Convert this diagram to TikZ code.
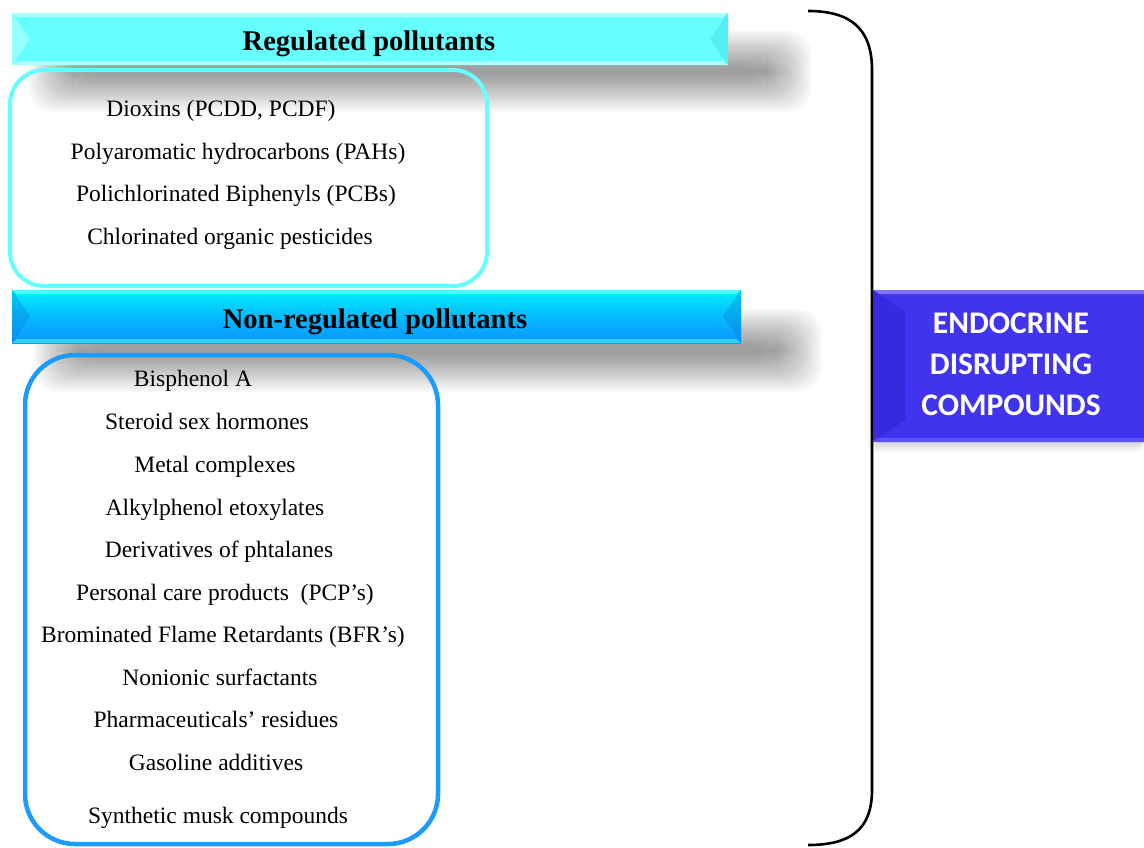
\documentclass[tikz,border=0pt]{standalone}
\usepackage{fontspec}
\setmainfont{Liberation Serif}
\newfontfamily\edcfont{Carlito}
\begin{document}
\begin{tikzpicture}[x=1pt,y=-1pt,
  item/.style={font=\fontsize{23.5}{23.5}\selectfont, inner sep=0pt, anchor=center, text height=16pt, text depth=5pt},
  head/.style={font=\fontsize{28.5}{28.5}\selectfont\bfseries, inner sep=0pt, anchor=center},
  brace/.style={line width=2.6pt, black},
]
\definecolor{regcyan}{RGB}{102,255,255}
\definecolor{reglight}{RGB}{170,255,255}
\definecolor{regdark}{RGB}{85,238,242}
\definecolor{nrtop}{RGB}{0,240,255}
\definecolor{nrbot}{RGB}{10,150,255}
\definecolor{nrborder}{RGB}{25,155,255}
\definecolor{edcblue}{RGB}{64,52,238}
\definecolor{edclight}{RGB}{125,115,255}
\definecolor{edcdark}{RGB}{54,42,222}
\useasboundingbox (0,0) rectangle (1144,847);
\fill[white] (0,0) rectangle (1144,847);
% soft shadows
\foreach \i in {0,...,17} {
  \fill[black,opacity=0.022,rounded corners=25] ({28+\i*2.6},{30+\i*2.2}) rectangle ({812-\i*2.6},{112-\i*2.2});
  \fill[black,opacity=0.022,rounded corners=25] ({33+\i*2.6},{308+\i*2.2}) rectangle ({822-\i*2.6},{392-\i*2.2});
}
\foreach \i in {0,...,7} {
  \fill[black,opacity=0.02,rounded corners=8] ({868+\i*1},{300+\i*1}) rectangle ({1144},{452-\i*1.2});
}
% Regulated bar
\fill[regcyan] (12,13) rectangle (728,65);
\fill[reglight] (12,13) -- (728,13) -- (723,17) -- (17,17) -- cycle;
\fill[reglight] (12,65) -- (728,65) -- (723,61) -- (17,61) -- cycle;
\fill[reglight!70!regcyan] (12,13) -- (30,39) -- (12,65) -- cycle;
\fill[regdark] (728,13) -- (710,39) -- (728,65) -- cycle;
\node[head] (reghead) at (369,44) {Regulated pollutants};
% Non-regulated bar
\shade[top color=nrtop, bottom color=nrbot, middle color=nrbot!60!nrtop] (12,290) rectangle (741,343);
\fill[nrtop!60!white,opacity=0.8] (12,290) -- (741,290) -- (736,294) -- (17,294) -- cycle;
\fill[nrtop!70!white,opacity=0.6] (12,343) -- (741,343) -- (736,339) -- (17,339) -- cycle;
\fill[nrbot!80!black,opacity=0.3] (12,290) -- (30,316) -- (12,343) -- cycle;
\fill[nrbot!80!black,opacity=0.3] (741,290) -- (723,316) -- (741,343) -- cycle;
\node[head] (nrhead) at (375,322) {Non-regulated pollutants};
% Regulated box
\draw[regcyan, line width=4pt, rounded corners=34] (10,70) rectangle (487,286);
\node[item] (r1) at (221,111) {Dioxins (PCDD, PCDF)};
\node[item] (r2) at (238,154) {Polyaromatic hydrocarbons (PAHs)};
\node[item] (r3) at (236,196) {Polichlorinated Biphenyls (PCBs)};
\node[item] (r4) at (230,239) {Chlorinated organic pesticides};
% Non-regulated box
\draw[nrborder, line width=4.5pt, rounded corners=50] (25,355) rectangle (438,844);
\node[item] (n1) at (193,381) {Bisphenol A};
\node[item] (n2) at (207,424) {Steroid sex hormones};
\node[item] (n3) at (215,467) {Metal complexes};
\node[item] (n4) at (215,510) {Alkylphenol etoxylates};
\node[item] (n5) at (219,552) {Derivatives of phtalanes};
\node[item] (n6) at (225,595) {Personal care products\ \ (PCP’s)};
\node[item] (n7) at (223,637) {Brominated Flame Retardants (BFR’s)};
\node[item] (n8) at (220,680) {Nonionic surfactants};
\node[item] (n9) at (216,722) {Pharmaceuticals’ residues};
\node[item] (n10) at (216,765) {Gasoline additives};
\node[item] (n11) at (218,818) {Synthetic musk compounds};
% Brace
\coordinate (btop) at (808,11);
\coordinate (bbot) at (808,845);
\draw[brace] (btop) .. controls (850,11) and (872,28) .. (872,70) -- (872,790) .. controls (872,830) and (850,845) .. (bbot);
% EDC box
\fill[edcblue] (873,290) rectangle (1144,442);
\fill[edclight] (873,290) -- (1144,290) -- (1144,294) -- (877,294) -- cycle;
\fill[edcdark] (873,290) -- (905,312) -- (905,420) -- (873,442) -- cycle;
\fill[edcblue!85!white] (873,442) -- (1144,442) -- (1144,438) -- (877,438) -- cycle;
\node[font=\edcfont\fontsize{31.5}{41}\selectfont\bfseries, text=white, align=center, inner sep=0pt] (edc) at (1011,364) {ENDOCRINE\\DISRUPTING\\COMPOUNDS};
\end{tikzpicture}
\end{document}
